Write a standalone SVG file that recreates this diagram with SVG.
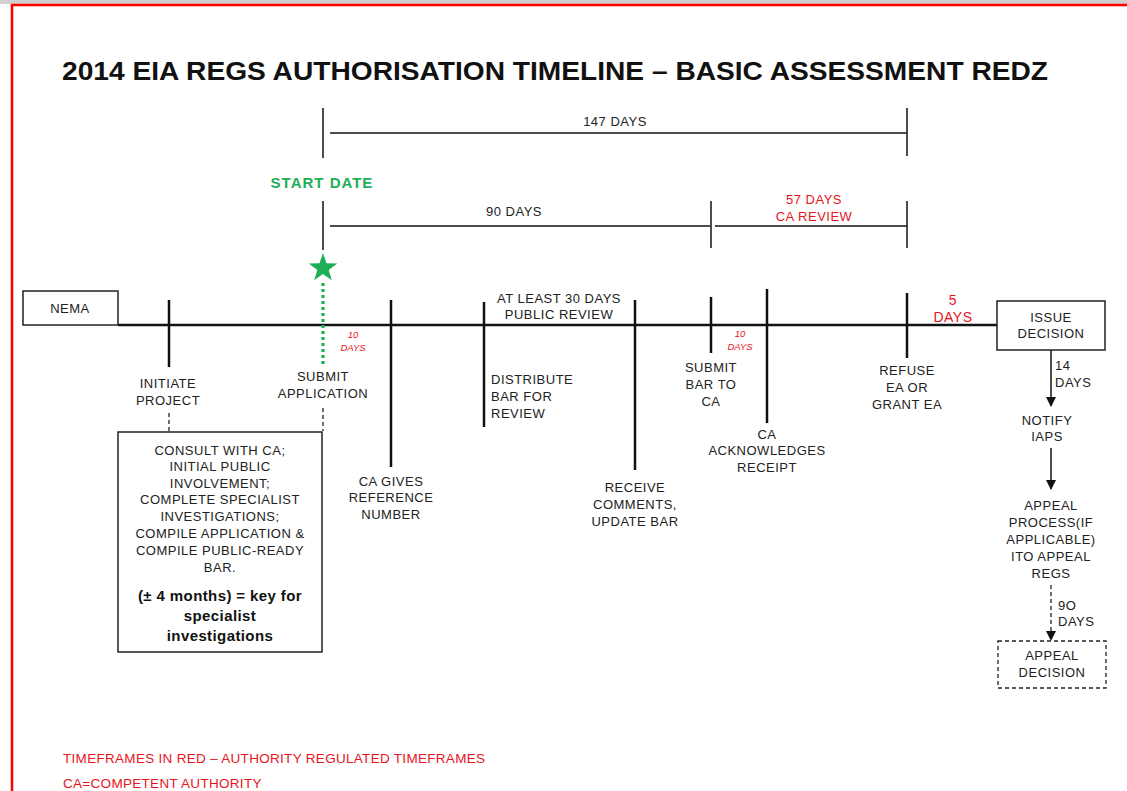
<svg xmlns="http://www.w3.org/2000/svg" width="1127" height="791" viewBox="0 0 1127 791">
<defs>
<style>
.t{font-family:"Liberation Sans",Arial,sans-serif;font-size:13px;letter-spacing:0.5px;fill:#222;}
.c{text-anchor:middle;}
.r{fill:#e8141c;}
.ri{font-family:"Liberation Sans",Arial,sans-serif;font-size:9.5px;font-style:italic;fill:#e8141c;text-anchor:middle;}
.b{font-weight:bold;font-size:15px;letter-spacing:0.4px;fill:#111;}
.ln{stroke:#111;stroke-width:1.5;fill:none;}
.tk{stroke:#111;stroke-width:2.5;fill:none;}
.box{fill:#fff;stroke:#222;stroke-width:1.5;}
.dash{stroke:#222;stroke-width:1.3;stroke-dasharray:4 3;fill:none;}
</style>
<marker id="ah" viewBox="0 0 10 10" refX="9" refY="5" markerWidth="10" markerHeight="10" markerUnits="userSpaceOnUse" orient="auto">
<path d="M0,0 L10,5 L0,10 z" fill="#111"/>
</marker>
</defs>
<rect x="0" y="0" width="1127" height="791" fill="#fff"/>
<rect x="0" y="0" width="1127" height="4" fill="#d0d0d0"/>
<line x1="11" y1="5" x2="1127" y2="5" stroke="#ff0000" stroke-width="2.5"/>
<line x1="12" y1="4" x2="12" y2="791" stroke="#ff0000" stroke-width="2.5"/>

<text id="title" x="62" y="80" textLength="986" lengthAdjust="spacingAndGlyphs" style="font-family:'Liberation Sans',Arial,sans-serif;font-weight:bold;font-size:26px;fill:#111">2014 EIA REGS AUTHORISATION TIMELINE – BASIC ASSESSMENT REDZ</text>

<g id="connectors">
<!-- 147 days bracket -->
<line class="ln" x1="323" y1="108" x2="323" y2="158"/>
<line class="ln" x1="907" y1="108" x2="907" y2="156"/>
<line class="ln" x1="330" y1="133" x2="907" y2="133"/>
<!-- 90 days bracket -->
<line class="ln" x1="323" y1="201" x2="323" y2="250"/>
<line class="ln" x1="330" y1="226" x2="710" y2="226"/>
<line class="ln" x1="711" y1="201" x2="711" y2="248"/>
<!-- 57 days bracket -->
<line class="ln" x1="715" y1="226" x2="907" y2="226"/>
<line class="ln" x1="907" y1="201" x2="907" y2="248"/>
<!-- main timeline -->
<line class="tk" x1="118" y1="325" x2="997" y2="325"/>
<!-- ticks -->
<line class="tk" x1="169" y1="300" x2="169" y2="367"/>
<line class="tk" x1="391" y1="300" x2="391" y2="467"/>
<line class="tk" x1="484" y1="302" x2="484" y2="427"/>
<line class="tk" x1="635" y1="300" x2="635" y2="470"/>
<line class="tk" x1="711" y1="297" x2="711" y2="353"/>
<line class="tk" x1="767" y1="289" x2="767" y2="423"/>
<line class="tk" x1="907" y1="293" x2="907" y2="358"/>
<!-- green dotted start line -->
<line x1="323" y1="283" x2="323" y2="366" stroke="#1fae55" stroke-width="3.2" stroke-dasharray="3 3"/>
<!-- dashed connectors to consult box -->
<line class="dash" x1="169" y1="413" x2="169" y2="431"/>
<line class="dash" x1="323" y1="408" x2="323" y2="431"/>
<!-- right column arrows -->
<line class="ln" x1="1051" y1="350" x2="1051" y2="406" marker-end="url(#ah)"/>
<line class="ln" x1="1051" y1="448" x2="1051" y2="489" marker-end="url(#ah)"/>
<line class="dash" x1="1051" y1="585" x2="1051" y2="640" marker-end="url(#ah)"/>
</g>

<g id="star">
<polygon fill="#1fae55" points="323,253 326.5,263.2 337.3,263.4 328.7,269.9 331.8,280.3 323,274 314.2,280.3 317.3,269.9 308.7,263.4 319.5,263.2"/>
</g>

<g id="labels-top">
<text class="t c" x="615" y="126">147 DAYS</text>
<text x="322" y="188" text-anchor="middle" style="font-family:'Liberation Sans',Arial,sans-serif;font-weight:bold;font-size:15px;fill:#1fae55;letter-spacing:1px">START  DATE</text>
<text class="t c" x="514" y="216">90 DAYS</text>
<text class="t c r" x="814" y="204">57 DAYS</text>
<text class="t c r" x="814" y="221">CA REVIEW</text>
</g>

<g id="nema">
<rect class="box" x="23" y="291" width="95" height="34"/>
<text class="t c" x="70" y="313">NEMA</text>
</g>

<g id="initiate">
<text class="t c" x="168" y="388">INITIATE</text>
<text class="t c" x="168" y="405">PROJECT</text>
</g>

<g id="submit-app">
<text class="t c" x="323" y="381">SUBMIT</text>
<text class="t c" x="323" y="398">APPLICATION</text>
<text class="ri" x="353" y="338">10</text>
<text class="ri" x="353" y="351">DAYS</text>
</g>

<g id="consult">
<rect class="box" x="118" y="432" width="204" height="220"/>
<text class="t c" x="220" y="455">CONSULT WITH CA;</text>
<text class="t c" x="220" y="471">INITIAL PUBLIC</text>
<text class="t c" x="220" y="488">INVOLVEMENT;</text>
<text class="t c" x="220" y="504">COMPLETE SPECIALIST</text>
<text class="t c" x="220" y="521">INVESTIGATIONS;</text>
<text class="t c" x="220" y="538">COMPILE APPLICATION &amp;</text>
<text class="t c" x="220" y="555">COMPILE PUBLIC-READY</text>
<text class="t c" x="220" y="572">BAR.</text>
<text class="t c b" x="220" y="601">(± 4  months) = key for</text>
<text class="t c b" x="220" y="621">specialist</text>
<text class="t c b" x="220" y="641">investigations</text>
</g>

<g id="ca-ref">
<text class="t c" x="391" y="486">CA GIVES</text>
<text class="t c" x="391" y="502">REFERENCE</text>
<text class="t c" x="391" y="519">NUMBER</text>
</g>

<g id="distribute">
<text class="t" x="491" y="384">DISTRIBUTE</text>
<text class="t" x="491" y="401">BAR FOR</text>
<text class="t" x="491" y="418">REVIEW</text>
</g>

<g id="public-review">
<text class="t c" x="559" y="303">AT LEAST 30 DAYS</text>
<text class="t c" x="559" y="319">PUBLIC REVIEW</text>
</g>

<g id="receive">
<text class="t c" x="635" y="492">RECEIVE</text>
<text class="t c" x="635" y="509">COMMENTS,</text>
<text class="t c" x="635" y="526">UPDATE BAR</text>
</g>

<g id="submit-bar">
<text class="t c" x="711" y="372">SUBMIT</text>
<text class="t c" x="711" y="389">BAR TO</text>
<text class="t c" x="711" y="406">CA</text>
<text class="ri" x="740" y="337">10</text>
<text class="ri" x="740" y="350">DAYS</text>
</g>

<g id="ca-ack">
<text class="t c" x="767" y="439">CA</text>
<text class="t c" x="767" y="455">ACKNOWLEDGES</text>
<text class="t c" x="767" y="472">RECEIPT</text>
</g>

<g id="refuse">
<text class="t c" x="907" y="375">REFUSE</text>
<text class="t c" x="907" y="392">EA OR</text>
<text class="t c" x="907" y="409">GRANT EA</text>
<text class="t c r" x="953" y="305" style="font-size:14px">5</text>
<text class="t c r" x="953" y="322" style="font-size:14px">DAYS</text>
</g>

<g id="issue">
<rect class="box" x="997" y="301" width="108" height="49"/>
<text class="t c" x="1051" y="322">ISSUE</text>
<text class="t c" x="1051" y="338">DECISION</text>
<text class="t" x="1055" y="370">14</text>
<text class="t" x="1055" y="387">DAYS</text>
</g>

<g id="notify">
<text class="t c" x="1047" y="425">NOTIFY</text>
<text class="t c" x="1047" y="441">IAPS</text>
</g>

<g id="appeal-process">
<text class="t c" x="1051" y="510">APPEAL</text>
<text class="t c" x="1051" y="527">PROCESS(IF</text>
<text class="t c" x="1051" y="544">APPLICABLE)</text>
<text class="t c" x="1051" y="561">ITO APPEAL</text>
<text class="t c" x="1051" y="578">REGS</text>
<text class="t" x="1058" y="610">9O</text>
<text class="t" x="1058" y="626">DAYS</text>
</g>

<g id="appeal-decision">
<rect x="998" y="641" width="108" height="47" fill="#fff" stroke="#222" stroke-width="1.3" stroke-dasharray="4 3"/>
<text class="t c" x="1052" y="660">APPEAL</text>
<text class="t c" x="1052" y="677">DECISION</text>
</g>

<g id="legend">
<text class="t r" x="63" y="763" style="font-size:13.5px;letter-spacing:0.3px">TIMEFRAMES IN RED – AUTHORITY REGULATED TIMEFRAMES</text>
<text class="t r" x="63" y="788" style="font-size:13.5px;letter-spacing:0.3px">CA=COMPETENT AUTHORITY</text>
</g>
</svg>
